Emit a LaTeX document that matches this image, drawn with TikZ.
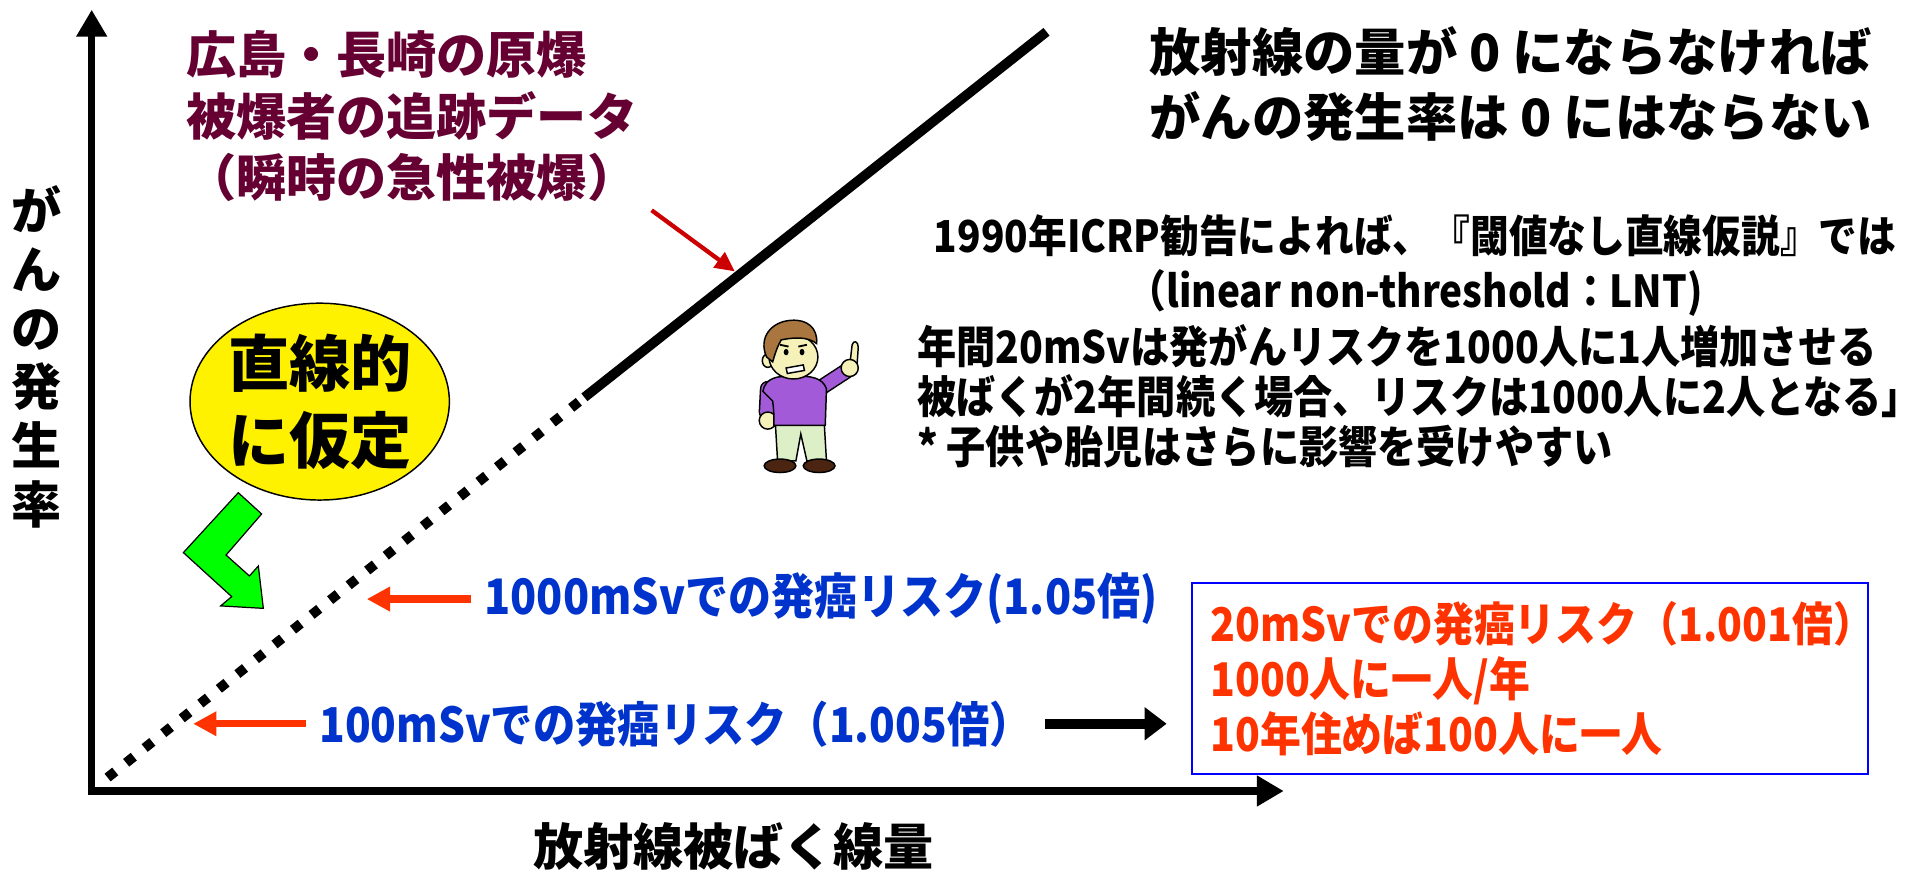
\documentclass[tikz,border=0pt]{standalone}
\usepackage{fontspec}
\setmainfont{Noto Sans CJK JP}
\newfontfamily\narrowjp[FakeStretch=0.88]{Noto Sans CJK JP}
\usepackage{tikz}
\usetikzlibrary{arrows.meta,shapes.geometric}
\pgfdeclarelayer{nodelayer}
\pgfdeclarelayer{edgelayer}
\pgfsetlayers{edgelayer,nodelayer,main}
\definecolor{maroon}{HTML}{660033}
\definecolor{riskblue}{HTML}{0033CC}
\definecolor{riskred}{HTML}{FF3300}
\definecolor{darkred}{HTML}{CC0000}
\definecolor{sweater}{HTML}{A35AD8}
\definecolor{trousers}{HTML}{DDEFC6}
\definecolor{skin}{HTML}{F6F1B8}
\definecolor{hair}{HTML}{A8763E}
\definecolor{shoe}{HTML}{4B2412}
\tikzstyle{axis}=[line width=6pt, {Triangle[length=22pt,width=24pt]}-{Triangle[length=22pt,width=24pt]}]
\tikzstyle{dose line}=[line width=8pt]
\tikzstyle{dotted dose line}=[line width=8pt, dash pattern=on 8pt off 11.4pt]
\tikzstyle{risk edge}=[draw=riskred, line width=6pt, -{Triangle[length=19pt,width=19pt]}]
\tikzstyle{data edge}=[draw=darkred, line width=3.5pt, -{Triangle[length=16pt,width=15pt]}]
\tikzstyle{directed edge}=[line width=8pt, -{Triangle[length=18pt,width=26pt]}]
\tikzstyle{heading}=[font=\bfseries\fontsize{41}{50}\selectfont, inner sep=0pt, align=left]
\tikzstyle{note}=[font=\narrowjp\bfseries\fontsize{36}{44}\selectfont, inner sep=0pt]
\tikzstyle{risk}=[font=\narrowjp\bfseries\fontsize{40}{45}\selectfont, text=riskblue, inner xsep=11pt, inner ysep=0pt]
\tikzstyle{outline}=[draw=black, line width=1.2pt]

\begin{document}
\begin{tikzpicture}[x=100pt, y=100pt]
    \useasboundingbox (0,0) rectangle (15.68,7.16);
	\begin{pgfonlayer}{nodelayer}
		\node [style=heading, text=maroon, anchor=west] (0) at (1.52, 6.21) {広島・長崎の原爆\\被爆者の追跡データ\\（瞬時の急性被爆）};
		\node [style=heading, anchor=west, font=\bfseries\fontsize{42}{53}\selectfont] (1) at (9.40, 6.475) {放射線の量が 0 にならなければ\\がんの発生率は 0 にはならない};
		\node [style=note, align=center, font=\narrowjp\bfseries\fontsize{36}{45}\selectfont] (2) at (11.575, 4.985) {1990年ICRP勧告によれば、『閾値なし直線仮説』では\\（linear non-threshold：LNT)};
		\node [style=note, align=left, anchor=west, font=\narrowjp\bfseries\fontsize{36.4}{41}\selectfont] (3) at (7.50, 3.92) {年間20mSvは発がんリスクを1000人に1人増加させる\\被ばくが2年間続く場合、リスクは1000人に2人となる」\\* 子供や胎児はさらに影響を受けやすい};
		\node [ellipse, draw=black, line width=1.2pt, fill=yellow, minimum width=207pt, minimum height=161pt, inner sep=0pt, align=center, font=\bfseries\fontsize{50}{63}\selectfont] (4) at (2.615, 3.875) {直線的\\に仮定};
		\node [style=risk, anchor=west] (6) at (3.85, 2.26) {1000mSvでの発癌リスク(1.05倍)};
		\node [style=risk, anchor=west, font=\narrowjp\bfseries\fontsize{39.3}{45}\selectfont] (7) at (2.50, 1.24) {100mSvでの発癌リスク（1.005倍）};
		\node [draw=blue, line width=1.5pt, font=\narrowjp\bfseries\fontsize{38}{45}\selectfont, text=riskred, align=left, text width=523pt, minimum height=150pt, inner sep=15pt] (8) at (12.515, 1.61) {20mSvでの発癌リスク（1.001倍）\\1000人に一人/年\\10年住めば100人に一人};
		\node [style=heading] (9) at (6.00, 0.24) {放射線被ばく線量};
		\node [style=heading, align=center, font=\bfseries\fontsize{41}{48}\selectfont] (10) at (0.30, 4.24) {が\\ん\\の\\発\\生\\率};
		\coordinate (11) at (0.75, 0.69);
		\coordinate (12) at (0.75, 7.08);
		\coordinate (13) at (10.50, 0.69);
		\coordinate (14) at (0.88, 0.80);
		\coordinate (15) at (4.78, 3.91);
		\coordinate (16) at (8.56, 6.90);
		\coordinate (17) at (5.33, 5.44);
		\coordinate (18) at (6.01, 4.94);
		\coordinate (19) at (3.00, 2.26);
		\coordinate (20) at (1.58, 1.24);
	\end{pgfonlayer}
	\begin{pgfonlayer}{edgelayer}
		\draw [style=axis] (12) -- (11) -- (13);
		\draw [style=dotted dose line] (14) -- (15);
		\draw [style=dose line] (15) -- (16);
		\draw [style=data edge] (17) -- (18);
		\draw [style=risk edge] (6.west) -- (19);
		\draw [style=risk edge] (7.west) -- (20);
		\draw [style=directed edge, shorten >=20pt] (7.east) -- (7.east -| 8.west);
	\end{pgfonlayer}
	% bent green arrow under the yellow ellipse
	\filldraw [fill=green, draw=black, line width=1pt] (1.949, 3.13) -- (2.14, 2.956) -- (1.849, 2.62) -- (2.04, 2.449) -- (2.113, 2.53) -- (2.154, 2.184) -- (1.805, 2.204) -- (1.895, 2.28) -- (1.50, 2.64) -- cycle;
	% man pointing up
	\begin{scope}[shift={(606pt,459pt)}, x=1pt, y=-1pt]
		\filldraw [fill=trousers, style=outline] (28,86) -- (68,86) -- (70,120) -- (54,120) -- (49,98) -- (45,120) -- (30,120) -- cycle;
		\filldraw [fill=shoe, style=outline] (32,124) ellipse [x radius=13pt, y radius=5.5pt];
		\filldraw [fill=shoe, style=outline] (64,124) ellipse [x radius=13pt, y radius=5.5pt];
		\draw [line width=13pt, line cap=round] (61,63) -- (87,46);
		\draw [line width=10.5pt, sweater, line cap=round] (61,63) -- (87,46);
		\filldraw [fill=skin, style=outline] (89,42) -- (91,25) .. controls (92,21) and (96,22) .. (96,27) -- (95,42) -- cycle;
		\filldraw [fill=skin, style=outline] (89,44) circle [radius=7pt];
		\draw [line width=13pt, line cap=round] (22,61) -- (21,80);
		\draw [line width=10.5pt, sweater, line cap=round] (22,61) -- (21,80);
		\filldraw [fill=skin, style=outline] (22,87) circle [radius=7pt];
		\filldraw [fill=sweater, style=outline] (18,63) .. controls (20,52) and (30,50) .. (43,51) .. controls (57,50) and (67,52) .. (70,61) -- (69,91) -- (27,91) .. controls (27,80) .. (26,71) -- cycle;
		\filldraw [fill=skin, style=outline] (22,38) ellipse [x radius=4.5pt, y radius=5.5pt];
		\filldraw [fill=skin, style=outline] (43,35) ellipse [x radius=20pt, y radius=18pt];
		\filldraw [fill=hair, style=outline] (21,35) .. controls (14,19) and (25,6) .. (41,5) .. controls (54,4) and (63,11) .. (62,24) .. controls (54,18) and (43,19) .. (33,21) .. controls (30,26) and (28,32) .. (26,39) -- cycle;
		\fill (37,31) ellipse [x radius=2pt, y radius=2.6pt];
		\fill (50,31) ellipse [x radius=2pt, y radius=2.6pt];
		\draw [line width=1.5pt] (32,25) -- (39,26.5) (47,26.5) -- (54,25);
		\filldraw [fill=white, style=outline] (37,44) -- (51,41.5) -- (52,46) -- (38,48.5) -- cycle;
	\end{scope}
\end{tikzpicture}
\end{document}
